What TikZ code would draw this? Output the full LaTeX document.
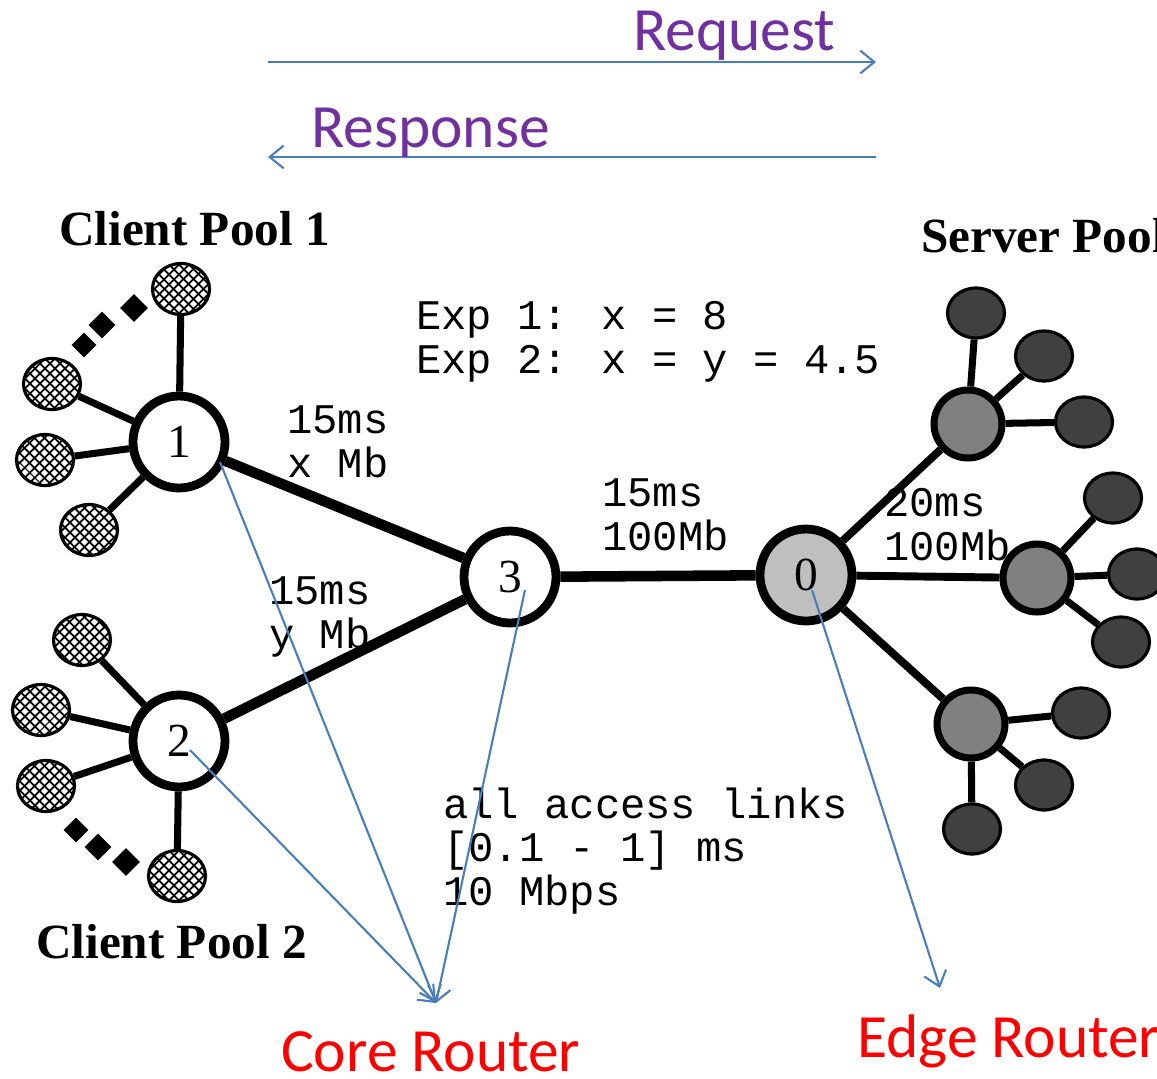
\documentclass[tikz,border=0pt]{standalone}
\usepackage{fontspec}
\setmainfont{Liberation Serif}
\newfontfamily\calibri{Carlito}
\newfontfamily\courier{Liberation Mono}
\usetikzlibrary{arrows.meta, shapes.geometric, patterns.meta, backgrounds, calc}

\definecolor{ptrblue}{HTML}{4A7EBB}
\definecolor{labpurple}{HTML}{7030A0}

\begin{document}
\begin{tikzpicture}[
    x=0.02cm, y=-0.02cm,
    router/.style={circle, draw, line width=5pt, fill=white, minimum size=1.84cm,
        inner sep=0pt, font=\fontsize{27}{27}\selectfont},
    edgerouter/.style={router, fill=black!25},
    hub/.style={circle, draw, line width=4pt, fill=black!50, minimum size=1.36cm},
    server/.style={ellipse, draw, line width=1.8pt, fill=black!75,
        minimum width=1.14cm, minimum height=1cm},
    client/.style={ellipse, draw, line width=1.8pt, minimum width=1.14cm, minimum height=1.02cm,
        preaction={fill=white},
        pattern={Lines[angle=45, distance=4pt, line width=1.1pt]},
        postaction={pattern={Lines[angle=-45, distance=4pt, line width=1.1pt]}}},
    more/.style={diamond, fill, inner sep=0pt, minimum size=#1},
    access/.style={line width=4pt},
    core/.style={line width=6pt},
    delay/.style={anchor=base west, align=left, font=\courier\fontsize{24}{24.5}\selectfont},
    pool/.style={anchor=base west, font=\bfseries\fontsize{28}{28}\selectfont},
    callout/.style={anchor=base west, font=\calibri\fontsize{35}{35}\selectfont},
    pointer/.style={draw=ptrblue, line width=1.2pt, -{Straight Barb[length=8pt, width=13pt]}}
]
\useasboundingbox (0,0) rectangle (1157,1079);

% routers
\node[router] (n1) at (179,442) {1};
\node[router] (n2) at (179,741) {2};
\node[router] (n3) at (510,577) {3};
\node[edgerouter] (n0) at (806,575) {0};

% client pools
\node[client] (c11) at (181,289) {};
\node[client] (c12) at (52,384) {};
\node[client] (c13) at (45,460) {};
\node[client] (c14) at (89,530) {};
\node[more=0.5cm] (d11) at (84,345) {};
\node[more=0.54cm] (d12) at (102,325) {};
\node[more=0.56cm] (d13) at (134,308) {};

\node[client] (c21) at (82,640) {};
\node[client] (c22) at (41,710) {};
\node[client] (c23) at (46,786) {};
\node[client] (c24) at (177,876) {};
\node[more=0.5cm] (d21) at (76,830) {};
\node[more=0.54cm] (d22) at (98,847) {};
\node[more=0.56cm] (d23) at (126,862) {};

% server pool
\node[hub] (hA) at (968,424) {};
\node[hub] (hB) at (1037,578) {};
\node[hub] (hC) at (971,724) {};
\node[server] (sA1) at (976,313) {};
\node[server] (sA2) at (1044,356) {};
\node[server] (sA3) at (1084,422) {};
\node[server] (sB1) at (1113,498) {};
\node[server] (sB2) at (1137,574) {};
\node[server] (sB3) at (1121,642) {};
\node[server] (sC1) at (1081,713) {};
\node[server] (sC2) at (1044,785) {};
\node[server] (sC3) at (972,829) {};

\begin{scope}[on background layer]
% base of a multi-line label is its last line
\node[delay] (exp) at (410,373) {Exp 1: x = 8\\Exp 2: x = y = 4.5};
\node[delay] (l13) at (281,477) {15ms\\x Mb};
\node[delay] (l23) at (263,648) {15ms\\y Mb};
\node[delay] (l30) at (596,550) {15ms\\100Mb};
\node[delay] (l0s) at (878,560) {20ms\\100Mb};
\node[delay] (lacc) at (437,905) {all access links\\{[}0.1 - 1] ms\\10 Mbps};

\draw[core] (n1) -- (n3);
\draw[core] (n2) -- (n3);
\draw[core] (n3) -- (n0);
\draw[line width=4.5pt] (n0) -- (hA);
\draw[line width=4.5pt] (n0) -- (hB);
\draw[line width=4.5pt] (n0) -- (hC);
\foreach \c in {c11,c12,c13,c14} \draw[access] (n1) -- (\c);
\foreach \c in {c21,c22,c23,c24} \draw[access] (n2) -- (\c);
\foreach \s in {sA1,sA2,sA3} \draw[access] (hA) -- (\s);
\foreach \s in {sB1,sB2,sB3} \draw[access] (hB) -- (\s);
\foreach \s in {sC1,sC2,sC3} \draw[access] (hC) -- (\s);
\end{scope}

\node[pool] (pool1) at (53,245) {Client Pool 1};
\node[pool] (pool2) at (30,958) {Client Pool 2};
\node[pool] (spool) at (915,252) {Server Pool};

% request / response
\coordinate (reqL) at (268,62);
\coordinate (reqR) at (876,62);
\coordinate (resL) at (268,157);
\coordinate (resR) at (876,157);
\draw[pointer] (reqL) -- (reqR);
\draw[pointer] (resR) -- (resL);
\node[callout, text=labpurple] (req) at (627,50) {Request};
\node[callout, text=labpurple] (res) at (305,147) {Response};

% router callouts
\coordinate (coretip) at (436,1003);
\coordinate (edgetip) at (940,988);
\draw[pointer] ($(n1)+(41,20)$) -- (coretip);
\draw[pointer] ($(n2)+(11,9)$) -- (coretip);
\draw[pointer] ($(n3)+(15,13)$) -- (coretip);
\draw[pointer] ($(n0)+(6,15)$) -- (edgetip);
\node[callout, text=red] (core) at (275,1071) {Core Router};
\node[callout, text=red] (edge) at (851,1057) {Edge Router};

\end{tikzpicture}
\end{document}
